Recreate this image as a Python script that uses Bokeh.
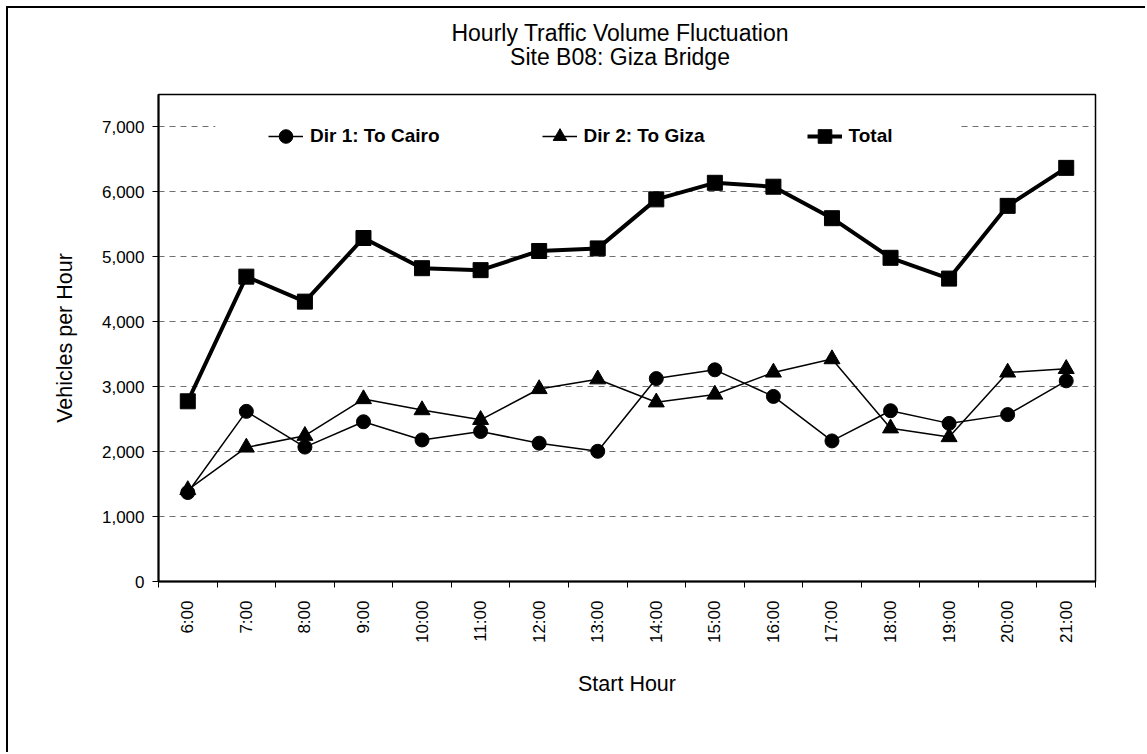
import math
from bokeh.plotting import figure
from bokeh.layouts import column
from bokeh.models import (Range1d, FixedTicker, NumeralTickFormatter, Legend,
                          LegendItem, Div, BoxAnnotation)
from bokeh.embed import file_html
from bokeh.resources import INLINE

hours = ["6:00", "7:00", "8:00", "9:00", "10:00", "11:00", "12:00", "13:00",
         "14:00", "15:00", "16:00", "17:00", "18:00", "19:00", "20:00", "21:00"]
dir1 = [1370, 2620, 2070, 2460, 2180, 2310, 2130, 2005,
        3125, 3260, 2850, 2165, 2630, 2435, 2570, 3090]
dir2 = [1410, 2065, 2245, 2810, 2640, 2490, 2965, 3115,
        2760, 2880, 3220, 3425, 2360, 2225, 3220, 3275]
total = [2775, 4695, 4310, 5290, 4825, 4795, 5090, 5130,
         5885, 6140, 6080, 5595, 4985, 4665, 5785, 6370]
y_ticks = [0, 1000, 2000, 3000, 4000, 5000, 6000, 7000]
title_lines = ["Hourly Traffic Volume Fluctuation", "Site B08: Giza Bridge"]

FONT = "Liberation Sans"
xs = [i + 0.5 for i in range(len(hours))]

title_div = Div(
    text=('<div style="width:1000px; margin-left:112px; padding-top:13px; '
          'text-align:center; font-family:\'Liberation Sans\'; font-size:23px; '
          'line-height:24px; color:black;">'
          + "<br>".join(title_lines) + "</div>"),
    width=1139, height=84, margin=0)

p = figure(width=1139, height=662, output_backend="svg", toolbar_location=None,
           x_range=Range1d(0, len(hours)), y_range=Range1d(0, 7500),
           min_border_left=150, min_border_right=52, min_border_top=2,
           min_border_bottom=173, background_fill_color="white",
           border_fill_color="white", title=None, margin=0)

p.outline_line_color = "black"
p.outline_line_width = 1.5

# axes
xa = p.xaxis[0]
xa.ticker = FixedTicker(ticks=xs, minor_ticks=list(range(len(hours) + 1)))
xa.major_label_overrides = {x: h for x, h in zip(xs, hours)}
xa.major_tick_out = 0
xa.major_tick_in = 0
xa.minor_tick_out = 6
xa.minor_tick_in = 0
xa.minor_tick_line_color = "black"
xa.major_label_orientation = math.pi / 2
xa.major_label_standoff = 13
xa.axis_label = "Start Hour"
xa.axis_label_standoff = 26

ya = p.yaxis[0]
ya.ticker = FixedTicker(ticks=y_ticks)
ya.formatter = NumeralTickFormatter(format="0,0")
ya.major_tick_out = 6
ya.major_tick_in = 0
ya.major_label_standoff = 8
ya.axis_label = "Vehicles per Hour"
ya.axis_label_standoff = 22

for ax in (xa, ya):
    ax.axis_line_color = "black"
    ax.axis_line_width = 2
    ax.major_tick_line_color = "black"
    ax.major_label_text_font = FONT
    ax.major_label_text_font_size = "17px"
    ax.major_label_text_color = "black"
    ax.axis_label_text_font = FONT
    ax.axis_label_text_font_size = "21.5px"
    ax.axis_label_text_font_style = "normal"
    ax.axis_label_text_color = "black"

p.xgrid.visible = False
p.ygrid.grid_line_color = "#707070"
p.ygrid.grid_line_dash = "6 5"
p.ygrid.grid_line_width = 1

# white legend backdrop (hides the top gridline behind the legend area)
p.add_layout(BoxAnnotation(left=0.97, right=13.7, bottom=6500, top=7250,
                           fill_color="white", fill_alpha=1.0, line_color=None,
                           level="underlay"))

# series
l1 = p.line(xs, dir1, line_color="black", line_width=1.5)
m1 = p.scatter(xs, dir1, marker="circle", size=14, fill_color="black", line_color="black")
l2 = p.line(xs, dir2, line_color="black", line_width=1.5)
m2 = p.scatter(xs, dir2, marker="triangle", size=16, fill_color="black", line_color="black")
l3 = p.line(xs, total, line_color="black", line_width=4)
m3 = p.scatter(xs, total, marker="square", size=15, fill_color="black", line_color="black")

legend = Legend(items=[
    LegendItem(label="Dir 1: To Cairo", renderers=[l1, m1]),
    LegendItem(label="Dir 2: To Giza", renderers=[l2, m2]),
    LegendItem(label="Total", renderers=[l3, m3]),
], orientation="horizontal", location=(110, 428), spacing=102, padding=10,
    margin=0, glyph_width=35, glyph_height=34, label_standoff=7,
    label_text_font=FONT, label_text_font_size="19px", label_text_font_style="bold",
    label_text_color="black", border_line_color=None,
    background_fill_color="white", background_fill_alpha=1.0)
p.add_layout(legend, "center")

layout = column(title_div, p, spacing=0)
layout.styles = {"margin-left": "8px", "margin-top": "8px",
                 "box-shadow": "-2px -2px 0 0 black", "background-color": "white"}

open("out.html", "w").write(file_html(layout, INLINE))
